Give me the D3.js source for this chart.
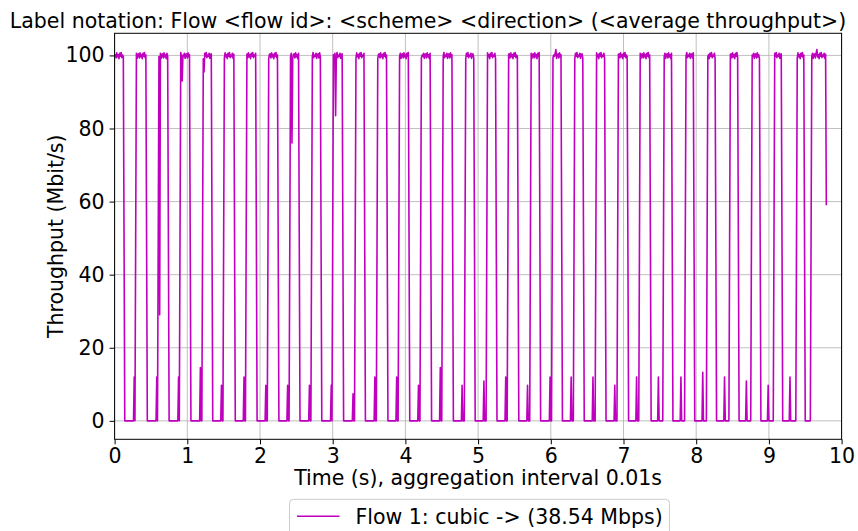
<!DOCTYPE html>
<html>
<head>
<meta charset="utf-8">
<script src="https://cdn.jsdelivr.net/npm/d3@7"></script>
<style>
  body { margin: 0; background: #fff; }
  svg { font-family: "DejaVu Sans", sans-serif; }
</style>
</head>
<body>
<svg id="chart"></svg>
<script>
// Thời điểm bắt đầu mỗi xung (s) — giá trị lên ~100 Mbit/s
const riseTimes = [0, 0.29, 0.60, 0.90, 1.21, 1.50, 1.81, 2.11, 2.41, 2.71, 3.00, 3.31, 3.61, 3.91, 4.21, 4.51,
                   4.82, 5.12, 5.41, 5.72, 6.02, 6.32, 6.62, 6.92, 7.22, 7.55, 7.85, 8.15, 8.46, 8.76, 9.07, 9.38, 9.58];
// Thời điểm xung rơi về 0
const fallTimes = [0.13, 0.44, 0.74, 1.04, 1.34, 1.65, 1.95, 2.25, 2.54, 2.84, 3.14, 3.44, 3.75, 4.05, 4.35, 4.65,
                   4.95, 5.25, 5.55, 5.85, 6.15, 6.45, 6.75, 7.06, 7.37, 7.67, 7.97, 8.27, 8.58, 8.88, 9.18, 9.49];
// Gai nhỏ trong khoảng thấp
const spikeTimes = [0.27, 0.58, 0.88, 1.18, 1.47, 1.78, 2.08, 2.38, 2.68, 2.98, 3.28, 3.58, 3.88, 4.18, 4.48, 4.78,
                    5.08, 5.38, 5.68, 5.99, 6.28, 6.58, 6.88, 7.18, 7.48, 7.79, 8.09, 8.39, 8.69, 8.99, 9.29];
const spikeHeights = [12, 12, 12, 14.6, 9.7, 12, 9.7, 9.7, 9.7, 9.7, 7.4, 12, 12, 9.7, 14.6, 9.7,
                      10.9, 12, 9.7, 12, 12, 12, 9.7, 12, 12, 12, 13.3, 12, 10.9, 9.7, 12];
// Dao động trên đỉnh xung
const topPattern = [100.4, 99.3, 100.7, 99.6, 100.2, 99.1, 100.6, 99.8, 100.8, 99.4, 100.1, 99.7, 100.6, 99.2, 100.3];
// Các điểm lõm / nhô bất thường
const dipTimes = [0.62, 0.93, 1.23, 2.44, 3.04, 6.07, 9.66];
const dipValues = [29, 93, 95.5, 76, 83.5, 101.6, 101.6];
const endTime = 9.79;
const endValue = 59;

const xTicks = [0, 1, 2, 3, 4, 5, 6, 7, 8, 9, 10];
const yTicks = [0, 20, 40, 60, 80, 100];
const legendLabel = "Flow 1: cubic -> (38.54 Mbps)";

// Ghép chuỗi điểm (thời gian theo đơn vị 0.01s)
const hund = t => Math.round(t * 100);
const dipMap = new Map(dipTimes.map((t, i) => [hund(t), dipValues[i]]));
const points = [];
let k = 0;
riseTimes.forEach((r, i) => {
    if (i > 0) points.push([hund(r) - 1, 0]);
    const last = i === riseTimes.length - 1;
    const stop = last ? hund(endTime) - 1 : hund(fallTimes[i]) - 1;
    for (let h = hund(r) + 1; h <= stop; h++) {
        points.push([h, dipMap.has(h) ? dipMap.get(h) : topPattern[k++ % topPattern.length]]);
    }
    if (last) {
        points.push([hund(endTime), endValue]);
    } else {
        points.push([hund(fallTimes[i]) + 1, 0]);
        if (i < spikeTimes.length) {
            const s = hund(spikeTimes[i]);
            points.push([s - 1, 0], [s, spikeHeights[i]], [s + 1, 0]);
        }
    }
});
const series = points.map(p => ({ t: p[0] / 100, v: p[1] }));

// Vùng vẽ
const width = 858;
const height = 531;
const margin = { top: 33.3, right: 16.4, bottom: 91.7, left: 114.6 };
const innerW = width - margin.left - margin.right;
const innerH = height - margin.top - margin.bottom;
const fs = "20.5px";

const svg = d3.select("#chart")
    .attr("width", width)
    .attr("height", height);

const g = svg.append("g")
    .attr("transform", `translate(${margin.left}, ${margin.top})`);

const x = d3.scaleLinear().domain([0, 10]).range([0, innerW]);
const y = d3.scaleLinear().domain([-5.05, 106.05]).range([innerH, 0]);

// Lưới
g.append("g")
    .selectAll("line")
    .data(xTicks)
    .enter()
    .append("line")
    .attr("x1", d => x(d)).attr("x2", d => x(d))
    .attr("y1", 0).attr("y2", innerH)
    .attr("stroke", "#b0b0b0").attr("stroke-width", 0.8);
g.append("g")
    .selectAll("line")
    .data(yTicks)
    .enter()
    .append("line")
    .attr("x1", 0).attr("x2", innerW)
    .attr("y1", d => y(d)).attr("y2", d => y(d))
    .attr("stroke", "#b0b0b0").attr("stroke-width", 0.8);

// Đường thông lượng
g.append("path")
    .datum(series)
    .attr("fill", "none")
    .attr("stroke", "#bf00bf")
    .attr("stroke-width", 1.6)
    .attr("stroke-linejoin", "round")
    .attr("d", d3.line().x(d => x(d.t)).y(d => y(d.v)));

// Trục
const xAxis = g.append("g")
    .attr("transform", `translate(0, ${innerH})`)
    .call(d3.axisBottom(x).tickValues(xTicks).tickSize(5).tickPadding(4).tickFormat(d3.format("d")));
const yAxis = g.append("g")
    .call(d3.axisLeft(y).tickValues(yTicks).tickSize(5).tickPadding(5).tickFormat(d3.format("d")));
[xAxis, yAxis].forEach(a => {
    a.select(".domain").remove();
    a.selectAll("text").style("font-size", fs).attr("fill", "#000").style("font-family", "DejaVu Sans");
    a.selectAll("line").attr("stroke", "#000").attr("stroke-width", 1);
});

// Khung
g.append("rect")
    .attr("width", innerW).attr("height", innerH)
    .attr("fill", "none").attr("stroke", "#000").attr("stroke-width", 1);

// Tiêu đề (lệch trái để vừa khung hình) và nhãn trục
svg.append("text")
    .attr("x", 428).attr("y", 28)
    .attr("text-anchor", "middle").style("font-size", fs)
    .text("Label notation: Flow <flow id>: <scheme> <direction> (<average throughput>)");
svg.append("text")
    .attr("x", margin.left + innerW / 2).attr("y", 485)
    .attr("text-anchor", "middle").style("font-size", fs)
    .text("Time (s), aggregation interval 0.01s");
svg.append("text")
    .attr("transform", `translate(63, ${margin.top + innerH / 2}) rotate(-90)`)
    .attr("text-anchor", "middle").style("font-size", fs)
    .text("Throughput (Mbit/s)");

// Chú giải
const lg = svg.append("g").attr("transform", "translate(289.5, 499.3)");
lg.append("rect")
    .attr("width", 380).attr("height", 50).attr("rx", 4)
    .attr("fill", "#fff").attr("stroke", "#cccccc").attr("stroke-width", 1);
lg.append("line")
    .attr("x1", 7.5).attr("x2", 50).attr("y1", 17).attr("y2", 17)
    .attr("stroke", "#bf00bf").attr("stroke-width", 1.6);
lg.append("text")
    .attr("x", 66).attr("y", 25).style("font-size", fs)
    .text(legendLabel);
</script>
</body>
</html>
